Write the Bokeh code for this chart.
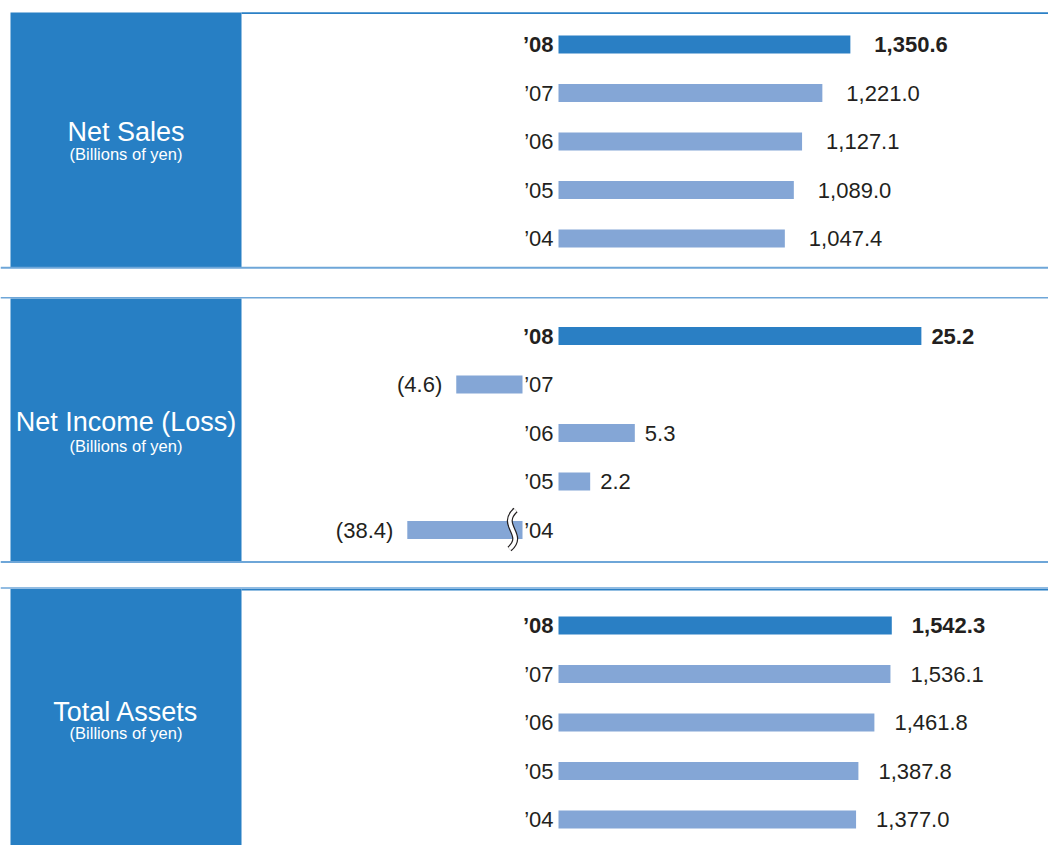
from bokeh.plotting import figure
from bokeh.layouts import column
from bokeh.models import Range1d
from bokeh.core.properties import value
from bokeh.embed import file_html
from bokeh.resources import INLINE

# ---------------- data ----------------
years = ["\u201908", "\u201907", "\u201906", "\u201905", "\u201904"]
net_sales = [1350.6, 1221.0, 1127.1, 1089.0, 1047.4]
net_income = [25.2, -4.6, 5.3, 2.2, -38.4]
total_assets = [1542.3, 1536.1, 1461.8, 1387.8, 1377.0]
titles = ["Net Sales", "Net Income (Loss)", "Total Assets"]
unit_label = "(Billions of yen)"

# ---------------- style ----------------
FONT = value("Liberation Sans")
BOX = "#277fc4"
DARK_BAR = "#2a7fc4"
LIGHT_BAR = "#84a6d6"
LINE_LIGHT = "#6ea6d8"
LINE_DARK = "#2b80c6"
TXT = "#231f20"
W = 1048
ZERO = 558          # px of value zero inside figure
ROW = 48.5
BAR_H = 18
BOX_L, BOX_R = 10, 241


def fmt(v):
    return f"({abs(v):,.1f})" if v < 0 else f"{v:,.1f}"


def panel(title, vals, height, scale, row0, box_top, box_bottom, lines,
          title_base, sub_base, gap, neg_off_px=36, neg_gap=14, cap=None):
    def X(px):
        return (px - ZERO) / scale

    p = figure(width=W, height=height, x_range=Range1d(X(0), X(W)),
               y_range=Range1d(height, 0), toolbar_location=None,
               output_backend="svg", min_border=0,
               x_axis_location=None, y_axis_location=None)
    p.grid.visible = False
    p.outline_line_color = None
    p.background_fill_color = "white"
    p.border_fill_color = "white"

    # left title box
    p.quad(left=[X(BOX_L)], right=[X(BOX_R)], top=[box_top], bottom=[box_bottom],
           fill_color=BOX, line_color=None)
    for (x0, x1, y, col, w) in lines:
        p.segment(x0=[X(x0)], x1=[X(x1)], y0=[y], y1=[y], line_color=col, line_width=w)

    cx = X((BOX_L + BOX_R) / 2)
    p.text(x=[cx], y=[title_base], text=[title], text_align="center",
           text_baseline="alphabetic", text_font=FONT, text_font_size="27px",
           text_color="white")
    p.text(x=[cx], y=[sub_base], text=[unit_label], text_align="center",
           text_baseline="alphabetic", text_font=FONT, text_font_size="16.5px",
           text_color="white")

    ys = [row0 + i * ROW for i in range(len(vals))]
    neg_zero = -neg_off_px / scale
    lefts, rights, colors = [], [], []
    for i, v in enumerate(vals):
        if v >= 0:
            lefts.append(0)
            rights.append(v)
        else:
            shown = max(v, -cap) if cap is not None else v
            lefts.append(shown + neg_zero)
            rights.append(neg_zero)
        colors.append(DARK_BAR if i == 0 else LIGHT_BAR)
    p.hbar(y=ys, left=lefts, right=rights, height=BAR_H, fill_color=colors,
           line_color=None)

    # axis break marker
    if cap is not None:
        for i, v in enumerate(vals):
            if v < -cap:
                bx = neg_zero - 10 / scale
                d = 1 / scale
                yc = ys[i]
                for col, w in (("#231f20", 6), ("white", 3.6)):
                    p.bezier(x0=[bx + 3 * d], y0=[yc - 20], x1=[bx - 3 * d], y1=[yc + 19],
                             cx0=[bx - 14 * d], cy0=[yc - 4], cx1=[bx + 14 * d], cy1=[yc + 4],
                             line_color=col, line_width=w)

    # year labels
    yx = -5 / scale
    p.text(x=[yx], y=ys[:1], text=years[:1], text_align="right", text_baseline="middle",
           text_font=FONT, text_font_size="22px", text_font_style="bold", text_color=TXT)
    p.text(x=[yx] * (len(vals) - 1), y=ys[1:], text=years[1:], text_align="right",
           text_baseline="middle", text_font=FONT, text_font_size="22px", text_color=TXT)

    # value labels
    for i, v in enumerate(vals):
        if v >= 0:
            lx, al = rights[i] + gap / scale, "left"
        else:
            lx, al = lefts[i] - neg_gap / scale, "right"
        p.text(x=[lx], y=[ys[i]], text=[fmt(v)], text_align=al, text_baseline="middle",
               text_font=FONT, text_font_size="22px",
               text_font_style="bold" if i == 0 else "normal", text_color=TXT)
    return p


s_big = 0.2161
p1 = panel(titles[0], net_sales, 282, s_big, 44, 12, 266.5,
           [(BOX_R, W, 12.6, LINE_DARK, 1.6), (0, W, 267.2, LINE_LIGHT, 2)],
           131, 153, 24)
p2 = panel(titles[1], net_income, 293, 14.40, 53.5, 16, 279,
           [(0, W, 15.2, LINE_LIGHT, 1.6), (0, W, 279.6, LINE_LIGHT, 2)],
           139, 163, 10, cap=8.0)
p3 = panel(titles[2], total_assets, 270, s_big, 50, 13.5, 270,
           [(0, W, 12.5, LINE_LIGHT, 1.6), (BOX_R, W, 14.2, LINE_DARK, 1.4)],
           136, 157, 20)

layout = column(p1, p2, p3, spacing=0)
open("out.html", "w").write(file_html(layout, INLINE))
